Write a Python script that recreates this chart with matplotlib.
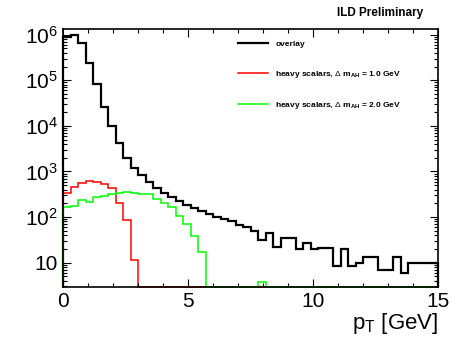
import numpy as np
import matplotlib
matplotlib.use("Agg")
import matplotlib.pyplot as plt
from matplotlib.ticker import FixedLocator, LogLocator, NullFormatter, MultipleLocator

plt.rcParams["font.family"] = ["Liberation Sans", "DejaVu Sans"]
plt.rcParams["mathtext.fontset"] = "custom"
plt.rcParams["mathtext.rm"] = "Liberation Sans"
plt.rcParams["mathtext.it"] = "Liberation Sans:italic"
plt.rcParams["mathtext.bf"] = "Liberation Sans:bold"

# 50 bins of 0.3 GeV from 0 to 15
bin_edges = np.linspace(0, 15, 51)

overlay = [8.7e5, 9.8e5, 6.5e5, 2.43e5, 8.2e4, 2.6e4, 9.7e3, 4150, 1980, 1220,
           838, 590, 435, 338, 276, 220, 184, 154, 133, 117,
           102, 91, 83, 67, 61, 49, 31, 45, 22, 34,
           34, 20, 27, 20, 21, 21, 8.6, 20, 8.6, 10,
           13.5, 13.5, 6.9, 6.9, 13.5, 5.9, 9.7, 9.7, 9.7, 9.7]

scalars_1gev = [343, 451, 551, 629, 598, 532, 428, 207, 86, 11.5] + [0] * 40

scalars_2gev = [166, 175, 233, 218, 276, 294, 316, 343, 361, 343,
                313, 321, 249, 204, 164, 108, 70.6, 38.5, 17] + [0] * 7 + [3.8] + [0] * 23

labels = ["overlay",
          r"heavy scalars, $\Delta$ m$_{\mathregular{AH}}$ = 1.0 GeV",
          r"heavy scalars, $\Delta$ m$_{\mathregular{AH}}$ = 2.0 GeV"]

ymin, ymax = 2.98, 1.33e6

fig = plt.figure(figsize=(4.59, 3.42), dpi=100)
ax = fig.add_axes([0.138, 0.162, 0.817, 0.753])

for vals, col, lw, lab in [(overlay, "black", 1.6, labels[0]),
                           (scalars_1gev, "#ff0000", 1.1, labels[1]),
                           (scalars_2gev, "#00ff00", 1.1, labels[2])]:
    v = np.clip(np.asarray(vals, float), ymin, None)
    ax.stairs(v, bin_edges, baseline=ymin, color=col, lw=lw, label=lab, clip_on=False)

ax.set_yscale("log")
ax.set_xlim(0, 15)
ax.set_ylim(ymin, ymax)

ax.xaxis.set_major_locator(MultipleLocator(5))
ax.xaxis.set_minor_locator(MultipleLocator(1))
ax.yaxis.set_major_locator(FixedLocator([10, 1e2, 1e3, 1e4, 1e5, 1e6]))
ax.yaxis.set_minor_locator(LogLocator(base=10, subs=np.arange(2, 10)))
ax.yaxis.set_minor_formatter(NullFormatter())
ax.set_yticklabels(["10"] + [r"$\mathregular{10^{%d}}$" % k for k in range(2, 7)])

ax.tick_params(which="both", direction="in", top=True, right=True, width=0.8)
ax.tick_params(which="major", length=6, labelsize=15, pad=4)
ax.tick_params(which="minor", length=3)
for s in ax.spines.values():
    s.set_linewidth(1.2)

ax.set_xlabel(r"p$_{\mathregular{T}}$ [GeV]", fontsize=16, loc="right", labelpad=0)

leg = ax.legend(loc="upper left", bbox_to_anchor=(0.445, 0.985), frameon=False,
                prop={"size": 6, "weight": "bold"}, handlelength=3.6,
                handletextpad=0.9, labelspacing=2.45)

fig.text(0.922, 0.962, "ILD Preliminary", ha="right", va="center",
         fontsize=8.5, fontweight="bold")

fig.savefig("out.png", dpi=100)
